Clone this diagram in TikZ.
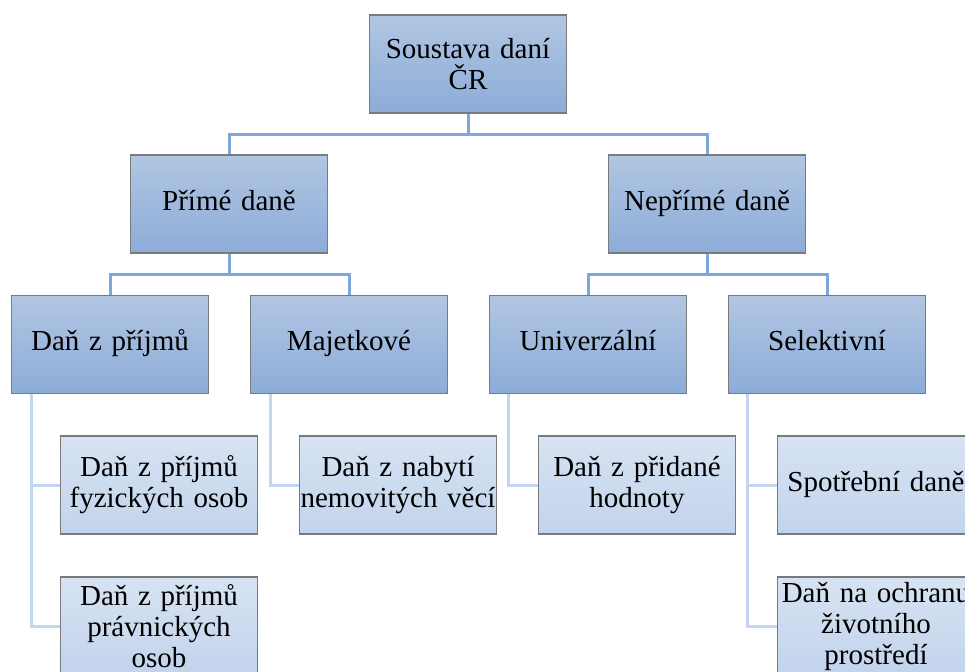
\documentclass[tikz,border=0pt]{standalone}
\usepackage{fontspec}
\setmainfont{Liberation Serif}
\usetikzlibrary{backgrounds}
\definecolor{boxtop}{HTML}{B1C6E2}
\definecolor{boxbot}{HTML}{8CACD8}
\definecolor{leaftop}{HTML}{D7E3F2}
\definecolor{leafbot}{HTML}{C2D3EC}
\definecolor{boxline}{HTML}{7A7A7A}
\definecolor{conn}{HTML}{7EA7DB}
\definecolor{connlight}{HTML}{C4D6EF}
\tikzset{
  mainbox/.style={draw=boxline, line width=1.5pt, top color=boxtop, bottom color=boxbot,
    minimum width=197pt, minimum height=98pt, text width=197pt, align=center,
    inner sep=0pt, font=\fontsize{29}{31}\selectfont},
  leafbox/.style={mainbox, top color=leaftop, bottom color=leafbot},
  link/.style={draw=conn, line width=3pt},
  linklight/.style={draw=connlight, line width=3pt}
}
\begin{document}
\begin{tikzpicture}[x=1pt,y=-1pt]
\useasboundingbox (0,0) rectangle (965,671);
\clip (0,0) rectangle (965,671);
% level 1
\node[mainbox] (top) at (468,64) {Soustava daní\\ČR};
% level 2
\node[mainbox] (prime) at (229,204) {Přímé daně\strut};
\node[mainbox] (neprime) at (707,204) {Nepřímé daně\strut};
% level 3
\node[mainbox] (prijmy) at (110,344.5) {Daň z příjmů\strut};
\node[mainbox] (majet) at (349,344.5) {Majetkové\strut};
\node[mainbox] (univ) at (588,344.5) {Univerzální\strut};
\node[mainbox] (selekt) at (827,344.5) {Selektivní\strut};
% level 4
\node[leafbox] (fyz) at (159,485) {Daň z příjmů\\fyzických osob};
\node[leafbox] (prav) at (159,626) {Daň z příjmů\\právnických\\osob};
\node[leafbox] (nabyti) at (398,485) {Daň z nabytí\\nemovitých věcí};
\node[leafbox] (dph) at (637,485) {Daň z přidané\\hodnoty};
\node[leafbox] (spotr) at (876,485) {Spotřební daně\strut};
\node[leafbox] (ochr) at (876,626) {Daň na ochranu\\životního\\prostředí};
\begin{pgfonlayer}{background}
\draw[link] (top.south) -- ([yshift=-21pt]top.south) coordinate (h1) -| (prime.north);
\draw[link] (h1) -| (neprime.north);
\draw[link] (prime.south) -- ([yshift=-21pt]prime.south) coordinate (h2) -| (prijmy.north);
\draw[link] (h2) -| (majet.north);
\draw[link] (neprime.south) -- ([yshift=-21pt]neprime.south) coordinate (h3) -| (univ.north);
\draw[link] (h3) -| (selekt.north);
\draw[linklight] ([xshift=21pt]prijmy.south west) |- (fyz.west);
\draw[linklight] ([xshift=21pt]prijmy.south west) |- (prav.west);
\draw[linklight] ([xshift=21pt]majet.south west) |- (nabyti.west);
\draw[linklight] ([xshift=20pt]univ.south west) |- (dph.west);
\draw[linklight] ([xshift=20pt]selekt.south west) |- (spotr.west);
\draw[linklight] ([xshift=20pt]selekt.south west) |- (ochr.west);
\end{pgfonlayer}
\end{tikzpicture}
\end{document}
